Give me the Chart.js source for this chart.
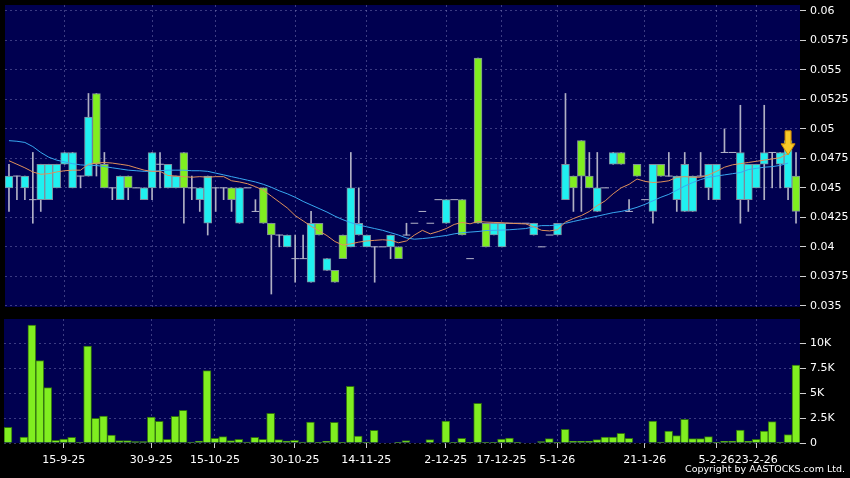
<!DOCTYPE html>
<html>
<head>
<meta charset="utf-8">
<script src="https://cdn.jsdelivr.net/npm/chart.js@4.4.1/dist/chart.umd.min.js"></script>
<style>
  html, body { margin: 0; padding: 0; background: #000; }
  #wrap { position: relative; width: 850px; height: 478px; overflow: hidden; }
  #price { position: absolute; left: 0; top: 0; }
  #vol { position: absolute; left: 0; top: 315px; }
  #copy { position: absolute; right: 5px; top: 463px; color: #fff; font: 9.5px "DejaVu Sans"; }
</style>
</head>
<body>
<div id="wrap">
  <canvas id="price" width="850" height="312"></canvas>
  <canvas id="vol" width="850" height="163"></canvas>
  <div id="copy">Copyright by AASTOCKS.com Ltd.</div>
</div>
<script>
// daily candles, oldest first
const openP = [
  0.046,0.046,0.046,0.044,0.047,0.047,0.047,0.048,0.048,0.046,
  0.051,0.047,0.045,0.045,0.046,0.045,0.045,0.045,0.048,0.047,
  0.047,0.046,0.045,0.045,0.045,0.046,0.045,0.045,0.044,0.045,
  0.045,0.043,0.042,0.041,0.041,0.041,0.039,0.039,0.042,0.041,
  0.039,0.037,0.039,0.045,0.042,0.041,0.040,0.040,0.041,0.039,
  0.041,0.042,0.043,0.042,0.044,0.044,0.044,0.041,0.039,0.042,
  0.040,0.042,0.042,0.042,0.042,0.042,0.042,0.040,0.041,0.042,
  0.047,0.045,0.046,0.045,0.045,0.045,0.048,0.047,0.043,0.046,
  0.044,0.047,0.046,0.046,0.046,0.047,0.046,0.046,0.047,0.047,
  0.048,0.048,0.048,0.047,0.047,0.048,0.048,0.048,0.049,0.043
];
const highP = [
  0.047,0.046,0.046,0.048,0.047,0.047,0.047,0.048,0.048,0.046,
  0.053,0.053,0.048,0.045,0.046,0.046,0.045,0.045,0.048,0.048,
  0.047,0.046,0.048,0.046,0.045,0.046,0.045,0.045,0.045,0.045,
  0.045,0.044,0.045,0.042,0.041,0.041,0.041,0.041,0.043,0.042,
  0.039,0.038,0.041,0.048,0.045,0.041,0.040,0.040,0.041,0.040,
  0.042,0.042,0.043,0.042,0.044,0.044,0.044,0.044,0.039,0.056,
  0.042,0.042,0.042,0.042,0.042,0.042,0.042,0.040,0.041,0.042,
  0.053,0.046,0.049,0.048,0.048,0.045,0.048,0.048,0.044,0.047,
  0.044,0.047,0.047,0.048,0.046,0.048,0.046,0.048,0.047,0.047,
  0.050,0.048,0.052,0.047,0.047,0.052,0.048,0.048,0.049,0.048
];
const lowP = [
  0.043,0.044,0.044,0.042,0.043,0.044,0.045,0.047,0.045,0.045,
  0.046,0.046,0.045,0.044,0.044,0.044,0.045,0.044,0.044,0.045,
  0.045,0.045,0.042,0.044,0.043,0.041,0.043,0.044,0.043,0.042,
  0.045,0.043,0.042,0.036,0.040,0.040,0.037,0.039,0.037,0.041,
  0.038,0.037,0.039,0.040,0.041,0.040,0.037,0.040,0.039,0.039,
  0.041,0.042,0.043,0.042,0.044,0.042,0.044,0.041,0.039,0.042,
  0.040,0.041,0.040,0.042,0.042,0.042,0.041,0.040,0.041,0.041,
  0.044,0.043,0.043,0.045,0.043,0.045,0.047,0.047,0.043,0.046,
  0.044,0.042,0.046,0.046,0.043,0.043,0.043,0.046,0.044,0.044,
  0.048,0.048,0.042,0.043,0.045,0.044,0.045,0.045,0.044,0.042
];
const closeP = [
  0.045,0.046,0.045,0.044,0.044,0.044,0.045,0.047,0.045,0.046,
  0.046,0.053,0.047,0.045,0.044,0.046,0.045,0.044,0.045,0.047,
  0.045,0.045,0.048,0.045,0.044,0.042,0.045,0.045,0.045,0.042,
  0.045,0.043,0.045,0.042,0.041,0.040,0.039,0.039,0.037,0.042,
  0.038,0.038,0.041,0.040,0.041,0.040,0.040,0.040,0.040,0.040,
  0.041,0.042,0.043,0.042,0.044,0.042,0.044,0.044,0.039,0.056,
  0.042,0.041,0.040,0.042,0.042,0.042,0.041,0.040,0.041,0.041,
  0.044,0.046,0.049,0.046,0.043,0.045,0.047,0.048,0.043,0.047,
  0.044,0.043,0.047,0.046,0.044,0.043,0.043,0.046,0.045,0.044,
  0.048,0.048,0.044,0.044,0.045,0.047,0.048,0.047,0.045,0.046
];
const volume = [
  1570,0,600,11800,8230,5530,270,400,570,100,
  9700,2470,2700,800,230,230,130,130,2600,2170,
  370,2670,3270,100,200,7230,470,630,230,370,
  100,570,370,2970,330,200,270,100,2100,30,
  170,2070,70,5670,700,70,1270,0,50,30,
  230,0,0,330,0,2200,70,470,70,3970,
  70,30,400,500,70,0,0,130,430,30,
  1370,170,170,170,330,600,600,970,470,0,
  0,2200,100,1200,730,2370,430,430,630,70,
  170,200,1300,170,370,1200,2130,100,830,7800
];
// moving averages as drawn (short = orange, long = blue)
const maShort = [
  0.0473,0.0470,0.0467,0.04635,0.04615,0.0462,0.04635,0.04645,0.0465,0.0465,
  0.0470,0.0471,0.04715,0.0471,0.0470,0.0469,0.0467,0.0465,0.0464,0.0464,
  0.04605,0.0460,0.04595,0.0459,0.04595,0.0459,0.04595,0.04595,0.0456,0.0455,
  0.04535,0.0451,0.0448,0.0443,0.0438,0.0433,0.04265,0.0422,0.04175,0.04135,
  0.04095,0.04045,0.04015,0.04025,0.0404,0.0405,0.04055,0.0406,0.04055,0.04035,
  0.0405,0.0410,0.0414,0.0411,0.0413,0.04155,0.0419,0.04207,0.04195,0.04215,
  0.0421,0.04207,0.04205,0.0420,0.04197,0.04194,0.0417,0.0414,0.04135,0.04145,
  0.0421,0.0424,0.04265,0.0430,0.0435,0.0439,0.0445,0.0450,0.0453,0.04575,
  0.04555,0.04545,0.0455,0.0456,0.0459,0.04595,0.0459,0.0459,0.0461,0.0464,
  0.04675,0.04695,0.04705,0.04715,0.04725,0.04735,0.04745,0.04755,0.0479,null
];
const maLong = [
  0.0490,0.04895,0.04885,0.0485,0.0480,0.0476,0.04735,0.0472,0.04705,0.04695,
  0.0469,0.0469,0.0468,0.0467,0.0466,0.0465,0.04645,0.0464,0.0464,0.04645,
  0.0465,0.0465,0.0465,0.04645,0.04645,0.0464,0.04625,0.0461,0.04595,0.0458,
  0.04565,0.0455,0.0453,0.04505,0.04475,0.0445,0.0442,0.04385,0.04355,0.04325,
  0.04295,0.0426,0.0423,0.04205,0.04185,0.0417,0.04155,0.0414,0.0412,0.0410,
  0.04075,0.04065,0.0407,0.04077,0.04087,0.04096,0.0411,0.0412,0.04125,0.0413,
  0.04138,0.0414,0.04142,0.04145,0.0415,0.04155,0.0417,0.0418,0.0418,0.04185,
  0.0420,0.04215,0.0423,0.04245,0.0426,0.04275,0.0429,0.0430,0.04315,0.04335,
  0.0436,0.0439,0.0442,0.04445,0.0448,0.04515,0.04545,0.0457,0.0459,0.0460,
  0.0461,0.0462,0.0463,0.04655,0.04665,0.04675,0.0468,0.0469,0.0471,null
];
// date labels and the bar they sit under
const tickLabels = ['15-9-25','30-9-25','15-10-25','30-10-25','14-11-25','2-12-25','17-12-25','5-1-26','21-1-26','5-2-26','23-2-26'];
const tickIndex = [7, 18, 26, 36, 45, 55, 62, 69, 80, 89, 94];
const priceTicks = [0.035,0.0375,0.04,0.0425,0.045,0.0475,0.05,0.0525,0.055,0.0575,0.06];
const volTicks = [0, 2500, 5000, 7500, 10000];
const volTickLabels = ['0', '2.5K', '5K', '7.5K', '10K'];
// sell signal arrow
const signalIndex = 98;
const signalPrice = 0.0478;

const navy = '#000050';
const gridCol = 'rgba(130,130,190,0.45)';
const upCol = '#80ee20';
const downCol = '#20f0f0';
const font = { family: 'DejaVu Sans', size: 11 };

const categories = openP.map((_, i) => {
  const k = tickIndex.indexOf(i);
  return k >= 0 ? tickLabels[k] : '';
});

const plotBg = {
  id: 'plotBg',
  beforeDraw(chart) {
    const { ctx, chartArea: a } = chart;
    ctx.save();
    ctx.fillStyle = navy;
    ctx.fillRect(a.left, a.top, a.right - a.left, a.bottom - a.top);
    ctx.restore();
  }
};

const arrow = {
  id: 'arrow',
  afterDatasetsDraw(chart) {
    const { ctx, scales } = chart;
    const x = scales.x.getPixelForValue(signalIndex);
    const y = scales.y.getPixelForValue(signalPrice);
    ctx.save();
    ctx.beginPath();
    ctx.moveTo(x, y);
    ctx.lineTo(x - 7, y - 11);
    ctx.lineTo(x - 3, y - 11);
    ctx.lineTo(x - 3, y - 24);
    ctx.lineTo(x + 3, y - 24);
    ctx.lineTo(x + 3, y - 11);
    ctx.lineTo(x + 7, y - 11);
    ctx.closePath();
    ctx.fillStyle = '#f8c828';
    ctx.fill();
    ctx.strokeStyle = '#d08800';
    ctx.lineWidth = 1;
    ctx.stroke();
    ctx.restore();
  }
};

const xGridColor = ctx => tickIndex.includes(ctx.index) ? gridCol : 'rgba(0,0,0,0)';

new Chart(document.getElementById('price'), {
  type: 'bar',
  data: {
    labels: categories,
    datasets: [
      { type: 'line', data: maShort, borderColor: '#e0905a', borderWidth: 1, pointRadius: 0, order: 1 },
      { type: 'line', data: maLong, borderColor: '#38a8f0', borderWidth: 1, pointRadius: 0, order: 1 },
      {
        type: 'line', showLine: false, order: 2,
        data: openP.map((o, i) => o === closeP[i] ? o : null),
        pointStyle: 'line', pointRadius: 3.8, pointBorderWidth: 1,
        pointBorderColor: '#b4b4c8', pointBackgroundColor: '#b4b4c8'
      },
      {
        order: 3, grouped: false,
        data: openP.map((o, i) => o === closeP[i] ? null : [o, closeP[i]]),
        backgroundColor: openP.map((o, i) => closeP[i] > o ? upCol : downCol),
        borderColor: '#7f8c9c', borderWidth: 1, borderSkipped: false,
        categoryPercentage: 1, barPercentage: 1
      },
      {
        order: 4, grouped: false,
        data: lowP.map((l, i) => highP[i] > l ? [l, highP[i]] : null),
        backgroundColor: '#b0b0c4', barThickness: 1
      }
    ]
  },
  options: {
    responsive: false,
    animation: false,
    devicePixelRatio: 1,
    layout: { padding: { left: 4, right: 0, top: 0, bottom: 4 } },
    plugins: { legend: { display: false }, tooltip: { enabled: false } },
    scales: {
      x: {
        ticks: { display: false, autoSkip: false },
        grid: { color: xGridColor, offset: false, drawTicks: false },
        border: { display: false, dash: [2, 3] },
        afterFit: a => { a.height = 0; }
      },
      y: {
        position: 'right',
        min: 0.0349, max: 0.0605,
        afterBuildTicks: a => { a.ticks = priceTicks.map(v => ({ value: v })); },
        afterFit: a => { a.width = 50; a.paddingTop = 0; a.paddingBottom = 0; },
        grid: { color: gridCol, tickColor: '#d0d0d0', tickLength: 6 },
        border: { display: false, dash: [2, 3] },
        ticks: { color: '#ffffff', font, padding: 4, callback: v => String(v) }
      }
    }
  },
  plugins: [plotBg, arrow]
});

new Chart(document.getElementById('vol'), {
  type: 'bar',
  data: {
    labels: categories,
    datasets: [{
      data: volume,
      backgroundColor: upCol,
      borderColor: '#2e6e10',
      borderWidth: 1,
      categoryPercentage: 1, barPercentage: 1
    }]
  },
  options: {
    responsive: false,
    animation: false,
    devicePixelRatio: 1,
    layout: { padding: { left: 4, right: 0, top: 4, bottom: 0 } },
    plugins: { legend: { display: false }, tooltip: { enabled: false } },
    scales: {
      x: {
        ticks: { color: '#ffffff', font, autoSkip: false, maxRotation: 0, minRotation: 0, padding: 6 },
        grid: {
          color: xGridColor, offset: false, tickLength: 5,
          tickColor: ctx => tickIndex.includes(ctx.index) ? '#cccccc' : 'rgba(0,0,0,0)'
        },
        border: { display: false, dash: [2, 3] },
        afterFit: a => { a.height = 35; a.paddingLeft = 0; a.paddingRight = 0; }
      },
      y: {
        position: 'right',
        min: 0, max: 12400,
        afterBuildTicks: a => { a.ticks = volTicks.map(v => ({ value: v })); },
        afterFit: a => { a.width = 50; a.paddingTop = 0; a.paddingBottom = 0; },
        grid: { color: gridCol, tickColor: '#d0d0d0', tickLength: 6 },
        border: { display: false, dash: [2, 3] },
        ticks: { color: '#ffffff', font, padding: 4, callback: (v, i) => volTickLabels[i] }
      }
    }
  },
  plugins: [plotBg]
});
</script>
</body>
</html>
